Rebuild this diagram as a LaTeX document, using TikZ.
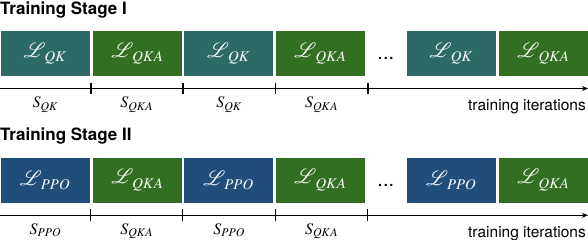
\documentclass[tikz,border=0pt]{standalone}
\usepackage{mathptmx}
\usepackage{mathrsfs}
\usepackage{fontspec}
\newfontfamily\heros{TeX Gyre Heros}
\usetikzlibrary{arrows.meta}
\definecolor{cteal}{RGB}{45,106,102}
\definecolor{cgreen}{RGB}{50,111,34}
\definecolor{cblue}{RGB}{33,77,122}
\newcommand{\Lsub}[1]{$\mathscr{L}_{\hspace{3pt}\raisebox{-1.5pt}{$\scriptstyle #1$}}$}
\tikzset{
  box/.style={draw=none, minimum width=89pt, minimum height=45pt, inner sep=0pt,
    text=white, font=\fontsize{20}{24}\selectfont},
  title/.style={font=\heros\bfseries\fontsize{17}{20}\selectfont, anchor=base west, inner sep=0pt},
  slabel/.style={font=\fontsize{16}{19}\selectfont, anchor=base, inner sep=0pt},
  itlabel/.style={font=\heros\fontsize{15.5}{18}\selectfont, anchor=base east, inner sep=0pt},
  axisA/.style={line width=1.6pt, -{Stealth[length=6pt,width=5pt]}},
  axisB/.style={line width=1pt, -{Stealth[length=6pt,width=5pt]}},
  tickA/.style={line width=1.6pt},
  tickB/.style={line width=1pt},
  dotsn/.style={font=\heros\fontsize{20}{24}\selectfont, inner sep=0pt, anchor=base},
}
\begin{document}
\begin{tikzpicture}[x=1pt,y=-1pt]
\useasboundingbox (0,0) rectangle (588,240);
% ---------- Stage I ----------
\node[title] (t1) at (0,15) {Training Stage I};
\node[box, fill=cteal]  (a1) at (45,53.5)    {\Lsub{QK}};
\node[box, fill=cgreen] (a2) at (137.3,53.5) {\Lsub{QKA}};
\node[box, fill=cteal]  (a3) at (228.5,53.5) {\Lsub{QK}};
\node[box, fill=cgreen] (a4) at (320.5,53.5) {\Lsub{QKA}};
\node[dotsn] (d1) at (385.8,59.5) {...};
\node[box, fill=cteal]  (a5) at (451.2,53.5) {\Lsub{QK}};
\node[box, fill=cgreen] (a6) at (543.5,53.5) {\Lsub{QKA}};
\coordinate (s1) at (0,88.5);
\coordinate (e1) at (588,88.5);
\draw[axisA] (s1) -- (e1);
\coordinate (k11) at (90.7,88.5);
\coordinate (k12) at (182.7,88.5);
\coordinate (k13) at (275.5,88.5);
\coordinate (k14) at (367.7,88.5);
\foreach \k in {k11,k12,k13,k14} \draw[tickA] (\k) ++(0,-5.5) -- ++(0,11);
\node[slabel] (l11) at (45.3,108) {$S_{QK}$};
\node[slabel] (l12) at (136.7,108) {$S_{QKA}$};
\node[slabel] (l13) at (229.1,108) {$S_{QK}$};
\node[slabel] (l14) at (321.6,108) {$S_{QKA}$};
\node[itlabel] (i1) at (586,111) {training iterations};
% ---------- Stage II ----------
\node[title] (t2) at (0,141) {Training Stage II};
\node[box, fill=cblue]  (b1) at (45,180.2)    {\Lsub{PPO}};
\node[box, fill=cgreen] (b2) at (137.3,180.2) {\Lsub{QKA}};
\node[box, fill=cblue]  (b3) at (228.5,180.2) {\Lsub{PPO}};
\node[box, fill=cgreen] (b4) at (320.5,180.2) {\Lsub{QKA}};
\node[dotsn] (d2) at (385.8,186.2) {...};
\node[box, fill=cblue]  (b5) at (451.2,180.2) {\Lsub{PPO}};
\node[box, fill=cgreen] (b6) at (543.5,180.2) {\Lsub{QKA}};
\coordinate (s2) at (0,215.3);
\coordinate (e2) at (588,215.3);
\draw[axisB] (s2) -- (e2);
\coordinate (k21) at (90.7,215.3);
\coordinate (k22) at (182.7,215.3);
\coordinate (k23) at (275.5,215.3);
\coordinate (k24) at (367.7,215.3);
\foreach \k in {k21,k22,k23,k24} \draw[tickB] (\k) ++(0,-6) -- ++(0,12);
\node[slabel] (l21) at (45.3,234) {$S_{PPO}$};
\node[slabel] (l22) at (136.7,234) {$S_{QKA}$};
\node[slabel] (l23) at (229.1,234) {$S_{PPO}$};
\node[slabel] (l24) at (321.6,234) {$S_{QKA}$};
\node[itlabel] (i2) at (586,237.5) {training iterations};
\end{tikzpicture}
\end{document}
